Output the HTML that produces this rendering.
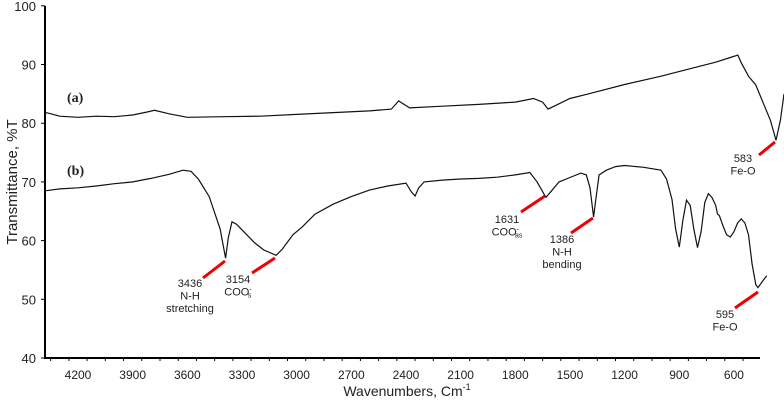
<!DOCTYPE html>
<html><head><meta charset="utf-8"><style>
html,body{margin:0;padding:0;background:#fff;width:784px;height:400px;overflow:hidden}
text{font-family:"Liberation Sans",sans-serif;fill:#222}
</style></head><body>
<svg id="chart" width="784" height="400" viewBox="0 0 784 400" xmlns="http://www.w3.org/2000/svg">
<g id="axes"></g>
<g id="series"></g>
<g id="annotations"></g>
</svg>
<script>
const xTicks=[4200,3900,3600,3300,3000,2700,2400,2100,1800,1500,1200,900,600];
const yTicks=[40,50,60,70,80,90,100];
const waveA=[4375,4300,4200,4100,4000,3900,3820,3780,3700,3600,3400,3200,3000,2800,2600,2480,2440,2420,2380,2200,2000,1800,1700,1650,1620,1580,1500,1400,1200,1000,800,700,620,578,560,520,480,440,400,369,345,325];
const valA=[81.8,81.2,81.0,81.2,81.1,81.4,81.9,82.2,81.6,81.0,81.1,81.2,81.5,81.8,82.1,82.4,83.8,83.4,82.6,82.9,83.2,83.6,84.2,83.6,82.4,83.0,84.2,85.0,86.6,88.0,89.6,90.4,91.2,91.6,90.3,88.0,86.5,83.5,80.5,77.1,80.5,85.0];
const waveB=[4375,4300,4200,4100,4000,3900,3800,3700,3624,3580,3540,3480,3420,3390,3375,3355,3330,3280,3230,3180,3113,3080,3020,2970,2900,2800,2700,2600,2500,2400,2370,2350,2330,2300,2200,2100,2000,1900,1800,1720,1680,1640,1631,1600,1560,1520,1480,1440,1410,1390,1370,1360,1340,1300,1250,1200,1100,1000,970,940,920,900,880,860,840,820,800,780,760,740,720,700,690,680,660,640,620,600,580,560,540,520,500,480,468,440,420];
const valB=[68.5,68.8,69.0,69.3,69.7,70.0,70.6,71.3,72.0,71.8,70.5,67.5,62.0,57.0,60.5,63.2,62.8,61.2,59.6,58.4,57.5,58.5,61.0,62.3,64.5,66.2,67.5,68.6,69.3,69.8,68.3,67.6,69.0,70.0,70.3,70.5,70.6,70.8,71.2,71.6,70.0,67.8,67.4,68.5,70.0,70.5,71.0,71.5,71.2,69.0,64.0,66.5,71.2,72.0,72.6,72.8,72.5,72.0,70.5,67.0,62.0,58.9,63.5,66.9,66.0,62.0,58.8,61.5,66.5,68.0,67.3,66.0,64.5,64.3,62.5,61.0,60.6,61.5,63.0,63.7,63.0,61.0,56.0,52.5,52.0,53.2,54.0];

const svg=document.getElementById('chart');
const NS='http://www.w3.org/2000/svg';
function X(w){return 78+(4200-w)*0.1822;}
function Y(v){return 358-(v-40)*5.87;}
function mk(tag,attrs,parent,txt){const e=document.createElementNS(NS,tag);for(const k in attrs)e.setAttribute(k,attrs[k]);if(txt!==undefined)e.textContent=txt;parent.appendChild(e);return e;}
const ax=document.getElementById('axes');
let e=mk('line',{x1:45,y1:6,x2:45,y2:359,stroke:'#000','stroke-width':2},ax);


e=mk('line',{x1:44,y1:358,x2:760,y2:358,stroke:'#000','stroke-width':2},ax);


yTicks.forEach(v=>{
  mk('line',{x1:41,y1:Y(v),x2:45,y2:Y(v),stroke:'#000','stroke-width':1},ax);
  const t=mk('text',{x:36,y:Y(v)+5,'text-anchor':'end','font-size':13},ax,String(v));
  
  
});
for(let w=4350;w>=460;w-=100){mk('line',{x1:X(w),y1:358,x2:X(w),y2:w%300===0?363:361,stroke:'#000','stroke-width':1},ax);}
xTicks.forEach(w=>{
  const t=mk('text',{x:X(w),y:379,'text-anchor':'middle','font-size':12},ax,String(w));
  
  
});
e=mk('text',{x:407,y:396,'text-anchor':'middle','font-size':14},ax,'Wavenumbers, Cm');


mk('tspan',{dy:-6,'font-size':9},e,'-1');
e=mk('text',{x:0,y:0,'text-anchor':'middle','font-size':15,transform:'translate(17,182) rotate(-90)'},ax,'Transmittance, %T');



const sg=document.getElementById('series');
function path(ws,vs){return ws.map((w,i)=>(i?'L':'M')+X(w).toFixed(1)+','+Y(vs[i]).toFixed(1)).join(' ');}
e=mk('path',{d:path(waveA,valA),fill:'none',stroke:'#111','stroke-width':1.2},sg);


e=mk('path',{d:path(waveB,valB),fill:'none',stroke:'#111','stroke-width':1.2},sg);



const an=document.getElementById('annotations');
e=mk('text',{x:67,y:102,'font-size':14,'font-weight':'bold',style:'font-family:"Liberation Serif",serif'},an,'(a)');


e=mk('text',{x:67,y:175,'font-size':14,'font-weight':'bold',style:'font-family:"Liberation Serif",serif'},an,'(b)');


function note(name,x1,y1,x2,y2,lx,ly,lines){
  const g=mk('g',{},an);
  
  
  mk('line',{x1:x1,y1:y1,x2:x2,y2:y2,stroke:'#e00','stroke-width':3},g);
  lines.forEach((s,i)=>{const t=mk('text',{x:lx,y:ly+i*12.5,'text-anchor':'middle','font-size':11},g,s[0]);if(s[1]){mk('tspan',{dy:-4,'font-size':7},t,'-');mk('tspan',{dy:6,'font-size':7,dx:-4},t,s[1]);}});
}
note('annotation-3436',203,278,225,261,190,287,[['3436'],['N-H'],['stretching']]);
note('annotation-3154',252,273,275,258,238,283,[['3154'],['COO','s']]);
note('annotation-1631',521,212,545,196,507,223,[['1631'],['COO','as']]);
note('annotation-1386',571,233,593,218,562,243,[['1386'],['N-H'],['bending']]);
note('annotation-595',735,308,758,292,725,318,[['595'],['Fe-O']]);
note('annotation-583',759,155,775,142,743,162,[['583'],['Fe-O']]);
</script>
</body></html>
